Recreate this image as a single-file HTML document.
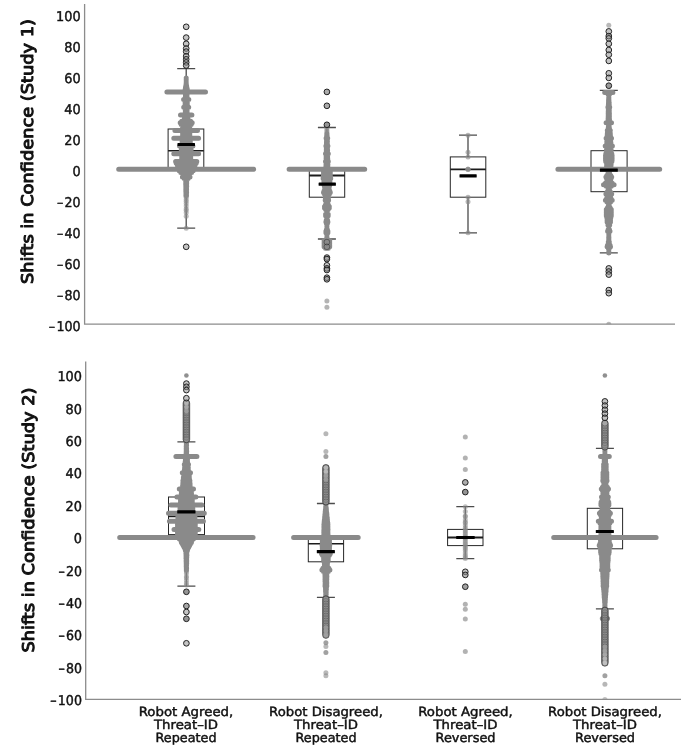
<!DOCTYPE html>
<html lang="en"><head><meta charset="utf-8"><title>Shifts in Confidence</title>
<style>html,body{margin:0;padding:0;background:#fff}svg{display:block;filter:grayscale(1)}text{font-family:"DejaVu Sans","Liberation Sans",sans-serif;fill:#111;stroke:#111;stroke-width:0.45px;text-rendering:geometricPrecision}</style></head><body>
<svg width="685" height="750" viewBox="0 0 685 750">
<rect width="685" height="750" fill="#fff"/>
<path d="M84.6 4V324.2H675" fill="none" stroke="#8c8c8c" stroke-width="1.3"/>
<path d="M85.7 361.5V699.4H681" fill="none" stroke="#8c8c8c" stroke-width="1.3"/>
<g font-size="13.4" text-anchor="end">
<text x="80.6" y="20.8" textLength="24.6" lengthAdjust="spacingAndGlyphs">100</text>
<text x="80.6" y="51.8" textLength="16.4" lengthAdjust="spacingAndGlyphs">80</text>
<text x="80.6" y="82.8" textLength="16.4" lengthAdjust="spacingAndGlyphs">60</text>
<text x="80.6" y="113.7" textLength="16.4" lengthAdjust="spacingAndGlyphs">40</text>
<text x="80.6" y="144.7" textLength="16.4" lengthAdjust="spacingAndGlyphs">20</text>
<text x="80.6" y="175.7" textLength="8.2" lengthAdjust="spacingAndGlyphs">0</text>
<text x="80.6" y="206.7" textLength="23.6" lengthAdjust="spacingAndGlyphs">– 20</text>
<text x="80.6" y="237.7" textLength="23.6" lengthAdjust="spacingAndGlyphs">– 40</text>
<text x="80.6" y="268.6" textLength="23.6" lengthAdjust="spacingAndGlyphs">– 60</text>
<text x="80.6" y="299.6" textLength="23.6" lengthAdjust="spacingAndGlyphs">– 80</text>
<text x="80.6" y="330.6" textLength="31.8" lengthAdjust="spacingAndGlyphs">– 100</text>
</g>
<g font-size="13.5" text-anchor="end">
<text x="82" y="381.1" textLength="24.6" lengthAdjust="spacingAndGlyphs">100</text>
<text x="82" y="413.5" textLength="16.4" lengthAdjust="spacingAndGlyphs">80</text>
<text x="82" y="445.9" textLength="16.4" lengthAdjust="spacingAndGlyphs">60</text>
<text x="82" y="478.3" textLength="16.4" lengthAdjust="spacingAndGlyphs">40</text>
<text x="82" y="510.7" textLength="16.4" lengthAdjust="spacingAndGlyphs">20</text>
<text x="82" y="543.1" textLength="8.2" lengthAdjust="spacingAndGlyphs">0</text>
<text x="82" y="575.5" textLength="23.6" lengthAdjust="spacingAndGlyphs">– 20</text>
<text x="82" y="607.9" textLength="23.6" lengthAdjust="spacingAndGlyphs">– 40</text>
<text x="82" y="640.3" textLength="23.6" lengthAdjust="spacingAndGlyphs">– 60</text>
<text x="82" y="672.7" textLength="23.6" lengthAdjust="spacingAndGlyphs">– 80</text>
<text x="82" y="705.1" textLength="31.8" lengthAdjust="spacingAndGlyphs">– 100</text>
</g>
<text transform="translate(33.3 284.0) rotate(-90)" font-size="16.2" style="stroke-width:1px;stroke-linejoin:round" textLength="265" lengthAdjust="spacingAndGlyphs">Shifts in Confidence (Study 1)</text>
<text transform="translate(34.3 652.6) rotate(-90)" font-size="16.2" style="stroke-width:1px;stroke-linejoin:round" textLength="265" lengthAdjust="spacingAndGlyphs">Shifts in Confidence (Study 2)</text>
<g font-size="12.6" text-anchor="middle">
<text x="186" y="715.7" textLength="94.6" lengthAdjust="spacingAndGlyphs">Robot Agreed,</text>
<text x="186" y="728.8" textLength="64" lengthAdjust="spacingAndGlyphs">Threat–ID</text>
<text x="186" y="742.0" textLength="61" lengthAdjust="spacingAndGlyphs">Repeated</text>
</g>
<g font-size="12.6" text-anchor="middle">
<text x="326" y="715.7" textLength="113.8" lengthAdjust="spacingAndGlyphs">Robot Disagreed,</text>
<text x="326" y="728.8" textLength="64" lengthAdjust="spacingAndGlyphs">Threat–ID</text>
<text x="326" y="742.0" textLength="61" lengthAdjust="spacingAndGlyphs">Repeated</text>
</g>
<g font-size="12.6" text-anchor="middle">
<text x="465.5" y="715.7" textLength="94.6" lengthAdjust="spacingAndGlyphs">Robot Agreed,</text>
<text x="465.5" y="728.8" textLength="64" lengthAdjust="spacingAndGlyphs">Threat–ID</text>
<text x="465.5" y="742.0" textLength="60" lengthAdjust="spacingAndGlyphs">Reversed</text>
</g>
<g font-size="12.6" text-anchor="middle">
<text x="605" y="715.7" textLength="113.8" lengthAdjust="spacingAndGlyphs">Robot Disagreed,</text>
<text x="605" y="728.8" textLength="64" lengthAdjust="spacingAndGlyphs">Threat–ID</text>
<text x="605" y="742.0" textLength="60" lengthAdjust="spacingAndGlyphs">Reversed</text>
</g>
<path d="M186.2 68.6V129M186.2 169.3V228.2M177.2 68.6h18M177.2 228.2h18" stroke="#4c4c4c" stroke-width="1.3" fill="none"/>
<rect x="168.1" y="129" width="35.7" height="40.3" fill="none" stroke="#262626" stroke-width="1"/>
<path d="M168.1 150.7H203.8" stroke="#1c1c1c" stroke-width="1.6"/>
<path d="M186.2 77.9h0M186.2 79.5h0M186.2 81h0M186.2 82.6h0M186.1 84.1h0.2M185.8 85.7h0.8M185.5 87.2h1.3M185.3 88.8h1.9M185 90.3h2.4M166.9 91.9h38.6M185.4 93.4h1.6M185.4 94.9h1.6M185.4 96.5h1.6M185.4 98h1.6M183.6 99.6h5.2M185.1 101.1h2.2M185.1 102.7h2.2M185.1 104.2h2.2M185.1 105.8h2.2M183.7 107.3h5M185.3 108.9h1.8M185.3 110.4h1.8M185.3 112h1.8M185.3 113.5h1.8M180.5 115.1h11.4M184.5 116.6h3.4M184.5 118.2h3.4M184.5 119.7h3.4M181.7 121.3h9M180.2 122.8h12M181.2 124.4h10M182.7 125.9h7M182.6 127.5h7.1M182.6 129h7.2M174.9 130.6h22.6M182.6 132.1h7.2M182.6 133.7h7.2M182.6 135.2h7.2M182.6 136.8h7.2M173.8 138.3h24.8M182.1 139.9h8.2M182.1 141.4h8.2M182.1 143h8.2M182.1 144.5h8.2M179.5 146.1h13.4M181.3 147.6h9.8M181.3 149.2h9.8M181.3 150.7h9.8M181.3 152.3h9.8M173.8 153.8h24.8M181.7 155.4h9M181.7 156.9h9M181.7 158.5h9M181.7 160h9M175.6 161.6h21.2M176.1 163.1h20.2M177.2 164.7h18M179.2 166.2h14M179.2 167.8h14M118.7 169.3h135M179.2 170.8h14M180.7 172.4h11M183.9 173.9h4.6M184.1 175.5h4.2M182.4 177h7.6M184.2 178.6h4M185.5 180.1h1.4M185.7 181.7h1M185.7 183.2h1M185.7 184.8h0.9M185.8 186.3h0.9M185.8 187.9h0.8M185.8 189.4h0.8M185.8 191h0.7M185.9 192.5h0.7M185.9 194.1h0.6M185.9 195.6h0.6" stroke="#8a8a8a" stroke-width="5" stroke-linecap="round" fill="none"/>
<circle cx="186.2" cy="197.2" r="2.5" fill="#8a8a8a" fill-opacity="0.58"/>
<circle cx="186.2" cy="199.4" r="2.5" fill="#8a8a8a" fill-opacity="0.58"/>
<circle cx="186.2" cy="201.2" r="2.5" fill="#8a8a8a" fill-opacity="0.58"/>
<circle cx="186.2" cy="203.4" r="2.5" fill="#8a8a8a" fill-opacity="0.58"/>
<circle cx="186.2" cy="206" r="2.5" fill="#8a8a8a" fill-opacity="0.58"/>
<circle cx="186.2" cy="208.8" r="2.5" fill="#8a8a8a" fill-opacity="0.58"/>
<circle cx="186.2" cy="210.3" r="2.5" fill="#8a8a8a" fill-opacity="0.58"/>
<circle cx="186.2" cy="212.7" r="2.5" fill="#8a8a8a" fill-opacity="0.58"/>
<circle cx="186.2" cy="216.2" r="2.5" fill="#8a8a8a" fill-opacity="0.58"/>
<circle cx="186.2" cy="228.2" r="2.5" fill="#8a8a8a" fill-opacity="0.58"/>
<circle cx="186.2" cy="26.8" r="2.85" fill="#8a8a8a" fill-opacity="0.5" stroke="#222" stroke-width="1"/>
<circle cx="186.2" cy="37.6" r="2.85" fill="#8a8a8a" fill-opacity="0.5" stroke="#222" stroke-width="1"/>
<circle cx="186.2" cy="43.8" r="2.85" fill="#8a8a8a" fill-opacity="0.5" stroke="#222" stroke-width="1"/>
<circle cx="186.2" cy="48.5" r="2.85" fill="#8a8a8a" fill-opacity="0.5" stroke="#222" stroke-width="1"/>
<circle cx="186.2" cy="51.6" r="2.85" fill="#8a8a8a" fill-opacity="0.5" stroke="#222" stroke-width="1"/>
<circle cx="186.2" cy="56.2" r="2.85" fill="#8a8a8a" fill-opacity="0.5" stroke="#222" stroke-width="1"/>
<circle cx="186.2" cy="59.3" r="2.85" fill="#8a8a8a" fill-opacity="0.5" stroke="#222" stroke-width="1"/>
<circle cx="186.2" cy="62.4" r="2.85" fill="#8a8a8a" fill-opacity="0.5" stroke="#222" stroke-width="1"/>
<circle cx="186.2" cy="65.5" r="2.85" fill="#8a8a8a" fill-opacity="0.6" stroke="#222" stroke-width="1"/>
<circle cx="186.2" cy="246.8" r="2.85" fill="#8a8a8a" fill-opacity="0.5" stroke="#222" stroke-width="1"/>
<rect x="177.5" y="142.9" width="17.5" height="3.2" rx="0.5" fill="#000"/>
<path d="M326.9 127.5V169.3M326.9 197.2V239M317.9 127.5h18M317.9 239h18" stroke="#4c4c4c" stroke-width="1.3" fill="none"/>
<rect x="309.3" y="169.3" width="35.4" height="27.9" fill="none" stroke="#262626" stroke-width="1"/>
<path d="M309.3 175.5H344.7" stroke="#1c1c1c" stroke-width="1.8"/>
<path d="M326.8 133.7h0.2M326.7 135.2h0.4M326.6 136.8h0.6M326.1 138.3h1.6M326.5 139.9h0.8M326.5 141.4h0.9M326.4 143h0.9M326.4 144.5h1M325.9 146.1h2M326.3 147.6h1.1M326.3 149.2h1.2M326.3 150.7h1.3M326.2 152.3h1.3M325.5 153.8h2.8M326.2 155.4h1.5M326.1 156.9h1.5M326.1 158.5h1.6M326.1 160h1.7M325.5 161.6h2.8M326 163.1h1.8M326 164.7h1.9M325.9 166.2h1.9M325.9 167.8h2M289.1 169.3h75.6M323.5 170.8h6.8M323.5 172.4h6.8M323.5 173.9h6.8M323.5 175.5h6.8M323.2 177h7.4M323.1 178.6h7.6M323.9 180.1h6M323.9 181.7h6M323.9 183.2h6M323.9 184.8h6M324.4 186.3h5M324.7 187.9h4.4M324.7 189.4h4.4M324 191h5.8M323.5 192.5h6.8M324.4 194.1h5M325.4 195.6h3M325.4 197.2h3M325.4 198.7h3M325.2 200.3h3.4M326 201.8h1.8M326 203.4h1.8M325.4 204.9h3M324.5 206.5h4.8M324.5 208h4.8M325.6 209.6h2.6M326.7 211.1h0.4M326.7 212.7h0.4M325.6 214.2h2.6M325.6 215.8h2.6M326.7 217.3h0.4M326.7 218.9h0.4M326.2 220.4h1.4M325.9 222h2M326.4 223.5h1M326.9 225.1h0M326.9 226.6h0M326.9 228.2h0M326.4 229.7h1M325.9 231.3h2M325.9 232.8h2M326.9 234.4h0M326.9 235.9h0M326.9 237.5h0M326.4 239h1M324.1 240.6h5.6M324.1 242.1h5.6M324.1 243.7h5.6M324.1 245.2h5.6M324.1 246.8h5.6M325.4 248.3h3" stroke="#8a8a8a" stroke-width="5" stroke-linecap="round" fill="none"/>
<circle cx="326.9" cy="128.1" r="2.5" fill="#8a8a8a" fill-opacity="0.62"/>
<circle cx="326.9" cy="130.1" r="2.5" fill="#8a8a8a" fill-opacity="0.62"/>
<circle cx="326.9" cy="131.8" r="2.5" fill="#8a8a8a" fill-opacity="0.62"/>
<circle cx="326.9" cy="91.9" r="2.85" fill="#8a8a8a" fill-opacity="0.72" stroke="#222" stroke-width="1"/>
<circle cx="326.9" cy="105.8" r="2.85" fill="#8a8a8a" fill-opacity="0.72" stroke="#222" stroke-width="1"/>
<circle cx="326.9" cy="124.8" r="2.85" fill="#8a8a8a" fill-opacity="0.9" stroke="#222" stroke-width="1"/>
<circle cx="326.9" cy="242.1" r="2.85" fill="#8a8a8a" fill-opacity="0.0" stroke="#222" stroke-width="1" stroke-opacity="0.45"/>
<circle cx="326.9" cy="246.8" r="2.85" fill="#8a8a8a" fill-opacity="0.0" stroke="#222" stroke-width="1" stroke-opacity="0.45"/>
<circle cx="326.9" cy="257.6" r="2.85" fill="#8a8a8a" fill-opacity="0.5" stroke="#222" stroke-width="1"/>
<circle cx="326.9" cy="259.1" r="2.85" fill="#8a8a8a" fill-opacity="0.5" stroke="#222" stroke-width="1"/>
<circle cx="326.9" cy="265.3" r="2.85" fill="#8a8a8a" fill-opacity="0.5" stroke="#222" stroke-width="1"/>
<circle cx="326.9" cy="268.4" r="2.85" fill="#8a8a8a" fill-opacity="0.5" stroke="#222" stroke-width="1"/>
<circle cx="326.9" cy="270" r="2.85" fill="#8a8a8a" fill-opacity="0.5" stroke="#222" stroke-width="1"/>
<circle cx="326.9" cy="277.7" r="2.85" fill="#8a8a8a" fill-opacity="0.5" stroke="#222" stroke-width="1"/>
<circle cx="326.9" cy="279.3" r="2.85" fill="#8a8a8a" fill-opacity="0.5" stroke="#222" stroke-width="1"/>
<circle cx="326.9" cy="301" r="2.5" fill="#8a8a8a" fill-opacity="0.64"/>
<circle cx="326.9" cy="307.2" r="2.5" fill="#8a8a8a" fill-opacity="0.64"/>
<rect x="318.6" y="182.6" width="17.3" height="3.2" rx="0.5" fill="#000"/>
<path d="M468 135.2V156.9M468 197.2V232.8M459 135.2h18M459 232.8h18" stroke="#4c4c4c" stroke-width="1.3" fill="none"/>
<rect x="450.3" y="156.9" width="35.5" height="40.3" fill="none" stroke="#262626" stroke-width="1"/>
<path d="M450.3 169.3H485.8" stroke="#1c1c1c" stroke-width="1.8"/>
<circle cx="468" cy="135.2" r="2.5" fill="#8a8a8a" fill-opacity="0.62"/>
<circle cx="468" cy="152.3" r="2.5" fill="#8a8a8a" fill-opacity="0.62"/>
<circle cx="468" cy="156.9" r="2.5" fill="#8a8a8a" fill-opacity="0.62"/>
<circle cx="468" cy="169.3" r="2.5" fill="#8a8a8a" fill-opacity="0.62"/>
<circle cx="468" cy="169.3" r="2.5" fill="#8a8a8a" fill-opacity="0.62"/>
<circle cx="468" cy="169.3" r="2.5" fill="#8a8a8a" fill-opacity="0.62"/>
<circle cx="468" cy="197.2" r="2.5" fill="#8a8a8a" fill-opacity="0.62"/>
<circle cx="468" cy="201.8" r="2.5" fill="#8a8a8a" fill-opacity="0.62"/>
<circle cx="468" cy="232.8" r="2.5" fill="#8a8a8a" fill-opacity="0.62"/>
<rect x="459.5" y="174.2" width="17.2" height="3.2" rx="0.5" fill="#000"/>
<path d="M608.8 90.3V150.7M608.8 191.8V252.9M599.8 90.3h18M599.8 252.9h18" stroke="#4c4c4c" stroke-width="1.3" fill="none"/>
<rect x="591" y="150.7" width="36.1" height="41" fill="none" stroke="#262626" stroke-width="1"/>
<path d="M604.7 92.6h8.2M608.1 94.3h1.4M608.8 96.5h0M608.7 98h0.2M608.6 99.6h0.3M608.5 101.1h0.5M608.5 102.7h0.7M608.4 104.2h0.8M608.3 105.8h1M607.9 107.3h1.8M608.3 108.9h1M608.3 110.4h1M608.2 112h1.1M608.2 113.5h1.2M608.2 115.1h1.2M608.2 116.6h1.2M608.1 118.2h1.3M608.1 119.7h1.4M608.1 121.3h1.4M606.1 122.8h5.4M608.7 124.4h0.2M608.5 125.9h0.6M608.3 127.5h1M608.1 129h1.4M607.3 130.6h3M607.4 132.1h2.8M607.3 133.7h3M607.2 135.2h3.2M607.1 136.8h3.4M606.1 138.3h5.4M606.9 139.9h3.8M606.8 141.4h3.9M606.8 143h4.1M606.7 144.5h4.2M605.2 146.1h7.2M606.5 147.6h4.6M606.5 149.2h4.6M606.5 150.7h4.6M606.5 152.3h4.6M605.8 153.8h6M605.5 155.4h6.6M605.5 156.9h6.6M605.5 158.5h6.6M605.5 160h6.6M605.7 161.6h6.2M606.5 163.1h4.6M606.6 164.7h4.5M606.6 166.2h4.3M606.7 167.8h4.2M557.9 169.3h101.8M607.9 170.8h1.8M608.1 172.4h1.4M608.3 173.9h1M606.8 175.5h4M605.9 177h5.8M606.5 178.6h4.6M606.9 180.1h3.8M606.9 181.7h3.8M605.3 183.2h7M603.5 184.8h10.6M606.3 186.3h5M608.3 187.9h1M608.3 189.4h1M607.7 191h2.2M606.7 192.5h4.2M605.9 194.1h5.8M606.9 195.6h3.8M607.9 197.2h1.8M606.5 198.7h4.6M605.4 200.3h6.8M606.8 201.8h4M608.3 203.4h1M608.3 204.9h1M608.3 206.5h1M607.3 208h3M606.3 209.6h5M606.3 211.1h5M606.3 212.7h5M606.3 214.2h5M606.3 215.8h5M606.7 217.3h4.2M607.1 218.9h3.4M607.1 220.4h3.4M607.1 222h3.4M607.9 223.5h1.8M607.9 225.1h1.8M608.8 226.6h0M608.8 228.2h0M608.1 229.7h1.4M607.6 231.3h2.4M608.8 232.8h0M608.8 234.4h0M608.8 235.9h0M608.7 237.5h0.2M608.7 239h0.2M608.7 240.6h0.2M608.3 242.1h1M608.3 243.7h1M607.5 245.2h2.6M607.1 246.8h3.4M608.3 248.3h1M608.8 249.8h0M608.8 251.4h0M608.8 252.9h0" stroke="#8a8a8a" stroke-width="5" stroke-linecap="round" fill="none"/>
<circle cx="608.8" cy="25.2" r="2.5" fill="#8a8a8a" fill-opacity="0.6"/>
<circle cx="608.8" cy="31.4" r="2.85" fill="#8a8a8a" fill-opacity="0.5" stroke="#222" stroke-width="1"/>
<circle cx="608.8" cy="36.1" r="2.85" fill="#8a8a8a" fill-opacity="0.5" stroke="#222" stroke-width="1"/>
<circle cx="608.8" cy="38.4" r="2.85" fill="#8a8a8a" fill-opacity="0.5" stroke="#222" stroke-width="1"/>
<circle cx="608.8" cy="43.8" r="2.85" fill="#8a8a8a" fill-opacity="0.5" stroke="#222" stroke-width="1"/>
<circle cx="608.8" cy="50" r="2.85" fill="#8a8a8a" fill-opacity="0.5" stroke="#222" stroke-width="1"/>
<circle cx="608.8" cy="54.7" r="2.85" fill="#8a8a8a" fill-opacity="0.5" stroke="#222" stroke-width="1"/>
<circle cx="608.8" cy="60.9" r="2.85" fill="#8a8a8a" fill-opacity="0.5" stroke="#222" stroke-width="1"/>
<circle cx="608.8" cy="73.3" r="2.85" fill="#8a8a8a" fill-opacity="0.5" stroke="#222" stroke-width="1"/>
<circle cx="608.8" cy="77.9" r="2.85" fill="#8a8a8a" fill-opacity="0.5" stroke="#222" stroke-width="1"/>
<circle cx="608.8" cy="85.7" r="2.85" fill="#8a8a8a" fill-opacity="0.85" stroke="#222" stroke-width="1"/>
<circle cx="608.8" cy="268.4" r="2.85" fill="#8a8a8a" fill-opacity="0.5" stroke="#222" stroke-width="1"/>
<circle cx="608.8" cy="271.5" r="2.85" fill="#8a8a8a" fill-opacity="0.5" stroke="#222" stroke-width="1"/>
<circle cx="608.8" cy="274.6" r="2.85" fill="#8a8a8a" fill-opacity="0.5" stroke="#222" stroke-width="1"/>
<circle cx="608.8" cy="290.1" r="2.85" fill="#8a8a8a" fill-opacity="0.5" stroke="#222" stroke-width="1"/>
<circle cx="608.8" cy="293.2" r="2.85" fill="#8a8a8a" fill-opacity="0.5" stroke="#222" stroke-width="1"/>
<path d="M606.3 324.2a2.5 2.5 0 0 1 5 0z" fill="#8a8a8a" fill-opacity="0.6"/>
<rect x="599.9" y="168.5" width="17.9" height="3.2" rx="0.5" fill="#000"/>
<path d="M186.4 441.9V497M186.4 534.6V586.1M177.4 441.9h18M177.4 586.1h18" stroke="#4c4c4c" stroke-width="1.3" fill="none"/>
<rect x="168.5" y="497" width="36" height="37.6" fill="none" stroke="#262626" stroke-width="1"/>
<path d="M168.5 516.4H204.5" stroke="#1c1c1c" stroke-width="1.6"/>
<path d="M186.3 443.5h0.2M186.3 445.2h0.3M186.2 446.8h0.3M186.2 448.4h0.4M186.2 450h0.4M186.2 451.6h0.5M186.1 453.3h0.5M186.1 454.9h0.6M175.9 456.5h21M185.5 458.1h1.8M185.4 459.7h2.1M185.2 461.4h2.3M185.1 463h2.6M184.3 464.6h4.2M184.7 466.2h3.4M184.6 467.8h3.7M184.4 469.5h3.9M184.3 471.1h4.2M182.3 472.7h8.2M183.7 474.3h5.4M183.6 475.9h5.7M183.4 477.6h5.9M183.3 479.2h6.2M182.9 480.8h7M182.9 482.4h7M182.8 484h7.3M182.6 485.7h7.5M182.5 487.3h7.8M179.3 488.9h14.2M181.5 490.5h9.8M181.4 492.1h10M181.3 493.8h10.2M181.2 495.4h10.4M176.9 497h19M180.5 498.6h11.8M180.5 500.2h11.8M180.5 501.9h11.8M180.5 503.5h11.8M170.9 505.1h31M180 506.7h12.8M180 508.3h12.8M180 510h12.8M180 511.6h12.8M168.5 513.2h35.8M177.9 514.8h17M177.9 516.4h17M177.9 518.1h17M177.9 519.7h17M169.4 521.3h34M177.5 522.9h17.8M177.5 524.5h17.8M177.5 526.2h17.8M177.5 527.8h17.8M174 529.4h24.8M177.5 531h17.8M177.5 532.6h17.8M177.5 534.3h17.8M177.5 535.9h17.8M119.7 537.5h133.4M179.4 539.1h14M180.9 540.7h11M181.4 542.4h10M182.4 544h8M183.1 545.6h6.6M184.1 547.2h4.6M184.9 548.8h3M185.4 550.5h2M185.9 552.1h1M185.9 553.7h0.9M186 555.3h0.9M186 556.9h0.8M186 558.6h0.7M186.1 560.2h0.6M186.1 561.8h0.6M186.2 563.4h0.5M186.2 565h0.4M186.2 566.7h0.3M186.3 568.3h0.3M186.3 569.9h0.2" stroke="#8a8a8a" stroke-width="5" stroke-linecap="round" fill="none"/>
<circle cx="186.4" cy="571.5" r="2.5" fill="#8a8a8a" fill-opacity="0.55"/>
<circle cx="186.4" cy="573.6" r="2.5" fill="#8a8a8a" fill-opacity="0.55"/>
<circle cx="186.4" cy="576.4" r="2.5" fill="#8a8a8a" fill-opacity="0.55"/>
<circle cx="186.4" cy="578" r="2.5" fill="#8a8a8a" fill-opacity="0.55"/>
<circle cx="186.4" cy="580.6" r="2.5" fill="#8a8a8a" fill-opacity="0.55"/>
<circle cx="186.4" cy="582.9" r="2.5" fill="#8a8a8a" fill-opacity="0.55"/>
<circle cx="186.4" cy="585.1" r="2.5" fill="#8a8a8a" fill-opacity="0.55"/>
<circle cx="186.4" cy="375.5" r="2.3" fill="#8a8a8a" fill-opacity="0.95"/>
<rect x="183.1" y="399.7" width="6.6" height="43.1" rx="3.3" fill="#8d8d8d" stroke="#303030" stroke-width="0.8" stroke-opacity="0.8"/>
<g fill="none" stroke="#303030" stroke-width="0.7" stroke-opacity="0.3"><circle cx="186.4" cy="403" r="3"/><circle cx="186.4" cy="405.5" r="3"/><circle cx="186.4" cy="407.9" r="3"/><circle cx="186.4" cy="410.3" r="3"/><circle cx="186.4" cy="412.8" r="3"/><circle cx="186.4" cy="415.2" r="3"/><circle cx="186.4" cy="417.6" r="3"/><circle cx="186.4" cy="420.1" r="3"/><circle cx="186.4" cy="422.5" r="3"/><circle cx="186.4" cy="424.9" r="3"/><circle cx="186.4" cy="427.3" r="3"/><circle cx="186.4" cy="429.8" r="3"/><circle cx="186.4" cy="432.2" r="3"/><circle cx="186.4" cy="434.6" r="3"/><circle cx="186.4" cy="437.1" r="3"/><circle cx="186.4" cy="439.5" r="3"/></g>
<circle cx="186.4" cy="403" r="2.3" fill="#b4b4b4"/>
<circle cx="186.4" cy="407.1" r="2.3" fill="#a8a8a8"/>
<circle cx="186.4" cy="411.1" r="2.3" fill="#9c9c9c"/>
<circle cx="186.4" cy="383.6" r="2.85" fill="#8a8a8a" fill-opacity="0.5" stroke="#222" stroke-width="1"/>
<circle cx="186.4" cy="386.8" r="2.85" fill="#8a8a8a" fill-opacity="0.5" stroke="#222" stroke-width="1"/>
<circle cx="186.4" cy="390.1" r="2.85" fill="#8a8a8a" fill-opacity="0.5" stroke="#222" stroke-width="1"/>
<circle cx="186.4" cy="398.2" r="2.85" fill="#8a8a8a" fill-opacity="0.5" stroke="#222" stroke-width="1"/>
<circle cx="186.4" cy="591.8" r="2.85" fill="#8a8a8a" fill-opacity="0.9" stroke="#222" stroke-width="1"/>
<circle cx="186.4" cy="606" r="2.85" fill="#8a8a8a" fill-opacity="0.75" stroke="#222" stroke-width="1"/>
<circle cx="186.4" cy="612" r="2.85" fill="#8a8a8a" fill-opacity="0.5" stroke="#222" stroke-width="1"/>
<circle cx="186.4" cy="618.8" r="2.85" fill="#8a8a8a" fill-opacity="0.9" stroke="#222" stroke-width="1"/>
<circle cx="186.4" cy="643.3" r="2.85" fill="#8a8a8a" fill-opacity="0.5" stroke="#222" stroke-width="1"/>
<rect x="177.2" y="510.3" width="18.3" height="3.2" rx="0.5" fill="#000"/>
<path d="M325.9 503.5V538.5M325.9 561.8V597.4M316.9 503.5h18M316.9 597.4h18" stroke="#4c4c4c" stroke-width="1.3" fill="none"/>
<rect x="308.3" y="538.5" width="35.3" height="23.3" fill="none" stroke="#262626" stroke-width="1"/>
<path d="M308.3 543.7H343.6" stroke="#1c1c1c" stroke-width="1.6"/>
<path d="M325.9 505.1h0M325.7 506.7h0.3M325.6 508.3h0.7M325.4 510h1M325.2 511.6h1.3M325.1 513.2h1.7M324.9 514.8h2M324.7 516.4h2.3M324.6 518.1h2.7M324.4 519.7h3M324.2 521.3h3.3M324.1 522.9h3.7M323.9 524.5h4M323.9 526.2h4M323.9 527.8h4M323.9 529.4h4.1M323.8 531h4.1M323.8 532.6h4.1M323.8 534.3h4.2M323.8 535.9h4.2M293.6 537.5h64.6M322.3 539.1h7.2M322.3 540.7h7.2M322.3 542.4h7.2M322.3 544h7.2M322.1 545.6h7.6M322.3 547.2h7.2M322.3 548.8h7.2M322.3 550.5h7.2M322.3 552.1h7.2M321.5 553.7h8.8M322.4 555.3h7M323.6 556.9h4.6M323.6 558.6h4.6M323.6 560.2h4.6M324 561.8h3.8M324.4 563.4h3M324.4 565h3M324.4 566.7h3M322.9 568.3h6M321.9 569.9h8M323.4 571.5h5M324.9 573.1h2M324.9 574.8h1.9M325 576.4h1.9M325 578h1.8M325 579.6h1.8M325 581.2h1.7M325.1 582.9h1.7M325.1 584.5h1.6M325 586.1h1.8M325.4 587.7h1M325.5 589.3h0.9M325.5 591h0.7M325.6 592.6h0.6M325.7 594.2h0.5M325.7 595.8h0.3M325.8 597.4h0.2" stroke="#8a8a8a" stroke-width="5" stroke-linecap="round" fill="none"/>
<circle cx="325.9" cy="433.8" r="2.5" fill="#8a8a8a" fill-opacity="0.62"/>
<circle cx="325.9" cy="451.6" r="2.5" fill="#8a8a8a" fill-opacity="0.62"/>
<circle cx="325.9" cy="456.5" r="2.5" fill="#8a8a8a" fill-opacity="0.8"/>
<rect x="322.6" y="464.5" width="6.6" height="40.6" rx="3.3" fill="#8d8d8d" stroke="#303030" stroke-width="0.8" stroke-opacity="0.8"/>
<g fill="none" stroke="#303030" stroke-width="0.7" stroke-opacity="0.3"><circle cx="325.9" cy="467.8" r="3"/><circle cx="325.9" cy="470.3" r="3"/><circle cx="325.9" cy="472.7" r="3"/><circle cx="325.9" cy="475.1" r="3"/><circle cx="325.9" cy="477.6" r="3"/><circle cx="325.9" cy="480" r="3"/><circle cx="325.9" cy="482.4" r="3"/><circle cx="325.9" cy="484.9" r="3"/><circle cx="325.9" cy="487.3" r="3"/><circle cx="325.9" cy="489.7" r="3"/><circle cx="325.9" cy="492.1" r="3"/><circle cx="325.9" cy="494.6" r="3"/><circle cx="325.9" cy="497" r="3"/><circle cx="325.9" cy="499.4" r="3"/><circle cx="325.9" cy="501.9" r="3"/></g>
<circle cx="325.9" cy="467.8" r="2.3" fill="#b6b6b6"/>
<circle cx="325.9" cy="471.7" r="2.3" fill="#b8b8b8"/>
<circle cx="325.9" cy="475.9" r="2.3" fill="#9e9e9e"/>
<circle cx="325.9" cy="479.5" r="2.3" fill="#9a9a9a"/>
<rect x="322.6" y="595.8" width="6.6" height="42.6" rx="3.3" fill="#8d8d8d" stroke="#303030" stroke-width="0.8" stroke-opacity="0.8"/>
<g fill="none" stroke="#303030" stroke-width="0.7" stroke-opacity="0.3"><circle cx="325.9" cy="599.1" r="3"/><circle cx="325.9" cy="601.5" r="3"/><circle cx="325.9" cy="603.9" r="3"/><circle cx="325.9" cy="606.4" r="3"/><circle cx="325.9" cy="608.8" r="3"/><circle cx="325.9" cy="611.2" r="3"/><circle cx="325.9" cy="613.6" r="3"/><circle cx="325.9" cy="616.1" r="3"/><circle cx="325.9" cy="618.5" r="3"/><circle cx="325.9" cy="620.9" r="3"/><circle cx="325.9" cy="623.4" r="3"/><circle cx="325.9" cy="625.8" r="3"/><circle cx="325.9" cy="628.2" r="3"/><circle cx="325.9" cy="630.6" r="3"/><circle cx="325.9" cy="633.1" r="3"/></g>
<circle cx="325.9" cy="635" r="2.3" fill="#a0a0a0"/>
<circle cx="325.9" cy="631.1" r="2.3" fill="#9c9c9c"/>
<circle cx="325.9" cy="627.6" r="2.3" fill="#989898"/>
<circle cx="325.9" cy="642.8" r="2.5" fill="#8a8a8a" fill-opacity="0.8"/>
<circle cx="325.9" cy="652.5" r="2.5" fill="#8a8a8a" fill-opacity="0.8"/>
<circle cx="325.9" cy="646.4" r="2.5" fill="#8a8a8a" fill-opacity="0.6"/>
<circle cx="325.9" cy="672.8" r="2.5" fill="#8a8a8a" fill-opacity="0.6"/>
<circle cx="325.9" cy="675.7" r="2.5" fill="#8a8a8a" fill-opacity="0.6"/>
<rect x="316.8" y="550" width="18.1" height="3.2" rx="0.5" fill="#000"/>
<path d="M465.3 506.7V529.4M465.3 545.6V558.6M456.3 506.7h18M456.3 558.6h18" stroke="#4c4c4c" stroke-width="1.3" fill="none"/>
<rect x="447.6" y="529.4" width="35.4" height="16.2" fill="none" stroke="#262626" stroke-width="1"/>
<path d="M447.6 537.5H483" stroke="#1c1c1c" stroke-width="2"/>
<circle cx="465.3" cy="506.7" r="2.5" fill="#8a8a8a" fill-opacity="0.55"/>
<circle cx="465.3" cy="511.6" r="2.5" fill="#8a8a8a" fill-opacity="0.55"/>
<circle cx="465.3" cy="516" r="2.5" fill="#8a8a8a" fill-opacity="0.55"/>
<circle cx="465.3" cy="516.4" r="2.5" fill="#8a8a8a" fill-opacity="0.55"/>
<circle cx="465.3" cy="519.7" r="2.5" fill="#8a8a8a" fill-opacity="0.55"/>
<circle cx="465.3" cy="522.1" r="2.5" fill="#8a8a8a" fill-opacity="0.55"/>
<circle cx="465.3" cy="522.9" r="2.5" fill="#8a8a8a" fill-opacity="0.55"/>
<circle cx="465.3" cy="525.5" r="2.5" fill="#8a8a8a" fill-opacity="0.55"/>
<circle cx="465.3" cy="527.8" r="2.5" fill="#8a8a8a" fill-opacity="0.55"/>
<circle cx="465.3" cy="529.4" r="2.5" fill="#8a8a8a" fill-opacity="0.55"/>
<circle cx="465.3" cy="531" r="2.5" fill="#8a8a8a" fill-opacity="0.55"/>
<circle cx="465.3" cy="532.6" r="2.5" fill="#8a8a8a" fill-opacity="0.55"/>
<circle cx="465.3" cy="534.3" r="2.5" fill="#8a8a8a" fill-opacity="0.55"/>
<circle cx="465.3" cy="535.9" r="2.5" fill="#8a8a8a" fill-opacity="0.55"/>
<circle cx="465.3" cy="537.5" r="2.5" fill="#8a8a8a" fill-opacity="0.55"/>
<circle cx="465.3" cy="537.5" r="2.5" fill="#8a8a8a" fill-opacity="0.55"/>
<circle cx="465.3" cy="539.1" r="2.5" fill="#8a8a8a" fill-opacity="0.55"/>
<circle cx="465.3" cy="540.7" r="2.5" fill="#8a8a8a" fill-opacity="0.55"/>
<circle cx="465.3" cy="542.4" r="2.5" fill="#8a8a8a" fill-opacity="0.55"/>
<circle cx="465.3" cy="544" r="2.5" fill="#8a8a8a" fill-opacity="0.55"/>
<circle cx="465.3" cy="545.6" r="2.5" fill="#8a8a8a" fill-opacity="0.55"/>
<circle cx="465.3" cy="547.2" r="2.5" fill="#8a8a8a" fill-opacity="0.55"/>
<circle cx="465.3" cy="548.8" r="2.5" fill="#8a8a8a" fill-opacity="0.55"/>
<circle cx="465.3" cy="550.5" r="2.5" fill="#8a8a8a" fill-opacity="0.55"/>
<circle cx="465.3" cy="552.9" r="2.5" fill="#8a8a8a" fill-opacity="0.55"/>
<circle cx="465.3" cy="555.3" r="2.5" fill="#8a8a8a" fill-opacity="0.55"/>
<circle cx="465.3" cy="556.9" r="2.5" fill="#8a8a8a" fill-opacity="0.55"/>
<circle cx="465.3" cy="558.6" r="2.5" fill="#8a8a8a" fill-opacity="0.55"/>
<circle cx="465.3" cy="437.1" r="2.5" fill="#8a8a8a" fill-opacity="0.66"/>
<circle cx="465.3" cy="458.1" r="2.5" fill="#8a8a8a" fill-opacity="0.66"/>
<circle cx="465.3" cy="469.5" r="2.5" fill="#8a8a8a" fill-opacity="0.66"/>
<circle cx="465.3" cy="604.2" r="2.5" fill="#8a8a8a" fill-opacity="0.66"/>
<circle cx="465.3" cy="609.3" r="2.5" fill="#8a8a8a" fill-opacity="0.66"/>
<circle cx="465.3" cy="619" r="2.5" fill="#8a8a8a" fill-opacity="0.66"/>
<circle cx="465.3" cy="651.5" r="2.5" fill="#8a8a8a" fill-opacity="0.66"/>
<circle cx="465.3" cy="482.4" r="2.85" fill="#8a8a8a" fill-opacity="0.7" stroke="#222" stroke-width="1"/>
<circle cx="465.3" cy="492.1" r="2.85" fill="#8a8a8a" fill-opacity="0.9" stroke="#222" stroke-width="1"/>
<circle cx="465.3" cy="571.8" r="2.85" fill="#8a8a8a" fill-opacity="0.5" stroke="#222" stroke-width="1"/>
<circle cx="465.3" cy="574.9" r="2.85" fill="#8a8a8a" fill-opacity="0.6" stroke="#222" stroke-width="1"/>
<circle cx="465.3" cy="586.7" r="2.85" fill="#8a8a8a" fill-opacity="0.8" stroke="#222" stroke-width="1"/>
<rect x="456.2" y="535.9" width="18.5" height="3.2" rx="0.5" fill="#000"/>
<path d="M604.9 448.4V508.3M604.9 548.8V608.8M595.9 448.4h18M595.9 608.8h18" stroke="#4c4c4c" stroke-width="1.3" fill="none"/>
<rect x="587.3" y="508.3" width="35.3" height="40.5" fill="none" stroke="#262626" stroke-width="1"/>
<path d="M604.9 450h0M604.9 451.6h0M604.9 453.3h0M604.9 454.9h0M600.5 456.5h8.8M604.2 458.1h1.4M604.2 459.7h1.4M604.2 461.4h1.4M604.2 463h1.4M603.6 464.6h2.6M603.6 466.2h2.6M603.6 467.8h2.6M603.6 469.5h2.6M603.6 471.1h2.6M603 472.7h3.8M603 474.3h3.8M603 475.9h3.8M603 477.6h3.8M603 479.2h3.8M602.8 480.8h4.2M603.8 482.4h2.2M603.8 484h2.2M603.8 485.7h2.2M602.4 487.3h5M601.3 488.9h7.2M602.4 490.5h5M602.9 492.1h4M602.9 493.8h4M602.9 495.4h4M601.5 497h6.8M602 498.6h5.8M602 500.2h5.8M601.1 501.9h7.6M600.9 503.5h8M600.9 505.1h8M602.1 506.7h5.6M602.1 508.3h5.6M602.1 510h5.6M600.9 511.6h8M599.4 513.2h11M600.4 514.8h9M601.3 516.4h7.2M601.3 518.1h7.2M601.3 519.7h7.2M598.3 521.3h13.2M599.9 522.9h10M600.9 524.5h8M600.9 526.2h8M600.9 527.8h8M600.8 529.4h8.2M600.9 531h8M600.9 532.6h8M600.9 534.3h8M600.9 535.9h8M553.7 537.5h102.4M600.5 539.1h8.8M600.5 540.7h8.8M600.5 542.4h8.8M599.8 544h10.2M599.2 545.6h11.4M600 547.2h9.8M600.6 548.8h8.6M600.6 550.5h8.6M600.6 552.1h8.6M600.9 553.7h8M601.6 555.3h6.6M601.6 556.9h6.6M601.6 558.6h6.6M601.6 560.2h6.6M601.8 561.8h6.2M602 563.4h5.8M602 565h5.8M602 566.7h5.8M602 568.3h5.8M601.5 569.9h6.8M602.6 571.5h4.6M602.7 573.1h4.4M602.8 574.8h4.3M602.8 576.4h4.2M602.9 578h4M603 579.6h3.8M603 581.2h3.7M603.1 582.9h3.6M603.2 584.5h3.4M603.1 586.1h3.6M603.5 587.7h2.8M603.6 589.3h2.5M603.8 591h2.3M603.9 592.6h2M604 594.2h1.8M604.1 595.8h1.5M604.2 597.4h1.3M604.4 599.1h1M604.5 600.7h0.8M604.6 602.3h0.6M604.8 603.9h0.2M604.8 605.5h0.2M604.8 607.2h0.2M604.8 608.8h0.2M602.3 618.5h5.2" stroke="#8a8a8a" stroke-width="5" stroke-linecap="round" fill="none"/>
<circle cx="604.9" cy="375.5" r="2.3" fill="#8a8a8a" fill-opacity="0.95"/>
<rect x="601.6" y="420" width="6.6" height="30.1" rx="3.3" fill="#8d8d8d" stroke="#303030" stroke-width="0.8" stroke-opacity="0.8"/>
<g fill="none" stroke="#303030" stroke-width="0.7" stroke-opacity="0.3"><circle cx="604.9" cy="423.3" r="3"/><circle cx="604.9" cy="425.7" r="3"/><circle cx="604.9" cy="428.1" r="3"/><circle cx="604.9" cy="430.6" r="3"/><circle cx="604.9" cy="433" r="3"/><circle cx="604.9" cy="435.4" r="3"/><circle cx="604.9" cy="437.9" r="3"/><circle cx="604.9" cy="440.3" r="3"/><circle cx="604.9" cy="442.7" r="3"/><circle cx="604.9" cy="445.2" r="3"/></g>
<circle cx="604.9" cy="423.3" r="2.3" fill="#a6a6a6"/>
<rect x="601.6" y="607.1" width="6.6" height="59.1" rx="3.3" fill="#8d8d8d" stroke="#303030" stroke-width="0.8" stroke-opacity="0.8"/>
<g fill="none" stroke="#303030" stroke-width="0.7" stroke-opacity="0.3"><circle cx="604.9" cy="610.4" r="3"/><circle cx="604.9" cy="612.8" r="3"/><circle cx="604.9" cy="615.3" r="3"/><circle cx="604.9" cy="617.7" r="3"/><circle cx="604.9" cy="620.1" r="3"/><circle cx="604.9" cy="622.5" r="3"/><circle cx="604.9" cy="625" r="3"/><circle cx="604.9" cy="627.4" r="3"/><circle cx="604.9" cy="629.8" r="3"/><circle cx="604.9" cy="632.3" r="3"/><circle cx="604.9" cy="634.7" r="3"/><circle cx="604.9" cy="637.1" r="3"/><circle cx="604.9" cy="639.6" r="3"/><circle cx="604.9" cy="642" r="3"/><circle cx="604.9" cy="644.4" r="3"/><circle cx="604.9" cy="646.9" r="3"/><circle cx="604.9" cy="649.3" r="3"/><circle cx="604.9" cy="651.7" r="3"/><circle cx="604.9" cy="654.1" r="3"/><circle cx="604.9" cy="656.6" r="3"/><circle cx="604.9" cy="659" r="3"/><circle cx="604.9" cy="661.4" r="3"/></g>
<circle cx="604.9" cy="662.9" r="2.3" fill="#c0c0c0"/>
<circle cx="604.9" cy="658.7" r="2.3" fill="#b4b4b4"/>
<circle cx="604.9" cy="654.8" r="2.3" fill="#a8a8a8"/>
<circle cx="604.9" cy="650.9" r="2.3" fill="#a0a0a0"/>
<circle cx="604.9" cy="646.9" r="2.3" fill="#9a9a9a"/>
<circle cx="604.9" cy="401.4" r="2.85" fill="#8a8a8a" fill-opacity="0.5" stroke="#222" stroke-width="1"/>
<circle cx="604.9" cy="405.6" r="2.85" fill="#8a8a8a" fill-opacity="0.5" stroke="#222" stroke-width="1"/>
<circle cx="604.9" cy="409.8" r="2.85" fill="#8a8a8a" fill-opacity="0.5" stroke="#222" stroke-width="1"/>
<circle cx="604.9" cy="413.7" r="2.85" fill="#8a8a8a" fill-opacity="0.5" stroke="#222" stroke-width="1"/>
<circle cx="604.9" cy="417.8" r="2.85" fill="#8a8a8a" fill-opacity="0.5" stroke="#222" stroke-width="1"/>
<circle cx="604.9" cy="675.8" r="2.5" fill="#8a8a8a" fill-opacity="0.8"/>
<circle cx="604.9" cy="684.3" r="2.5" fill="#8a8a8a" fill-opacity="0.62"/>
<path d="M602.4 699.4a2.5 2.5 0 0 1 5 0z" fill="#8a8a8a" fill-opacity="0.5"/>
<rect x="595.8" y="529.9" width="18.1" height="3.2" rx="0.5" fill="#000"/>
</svg></body></html>
